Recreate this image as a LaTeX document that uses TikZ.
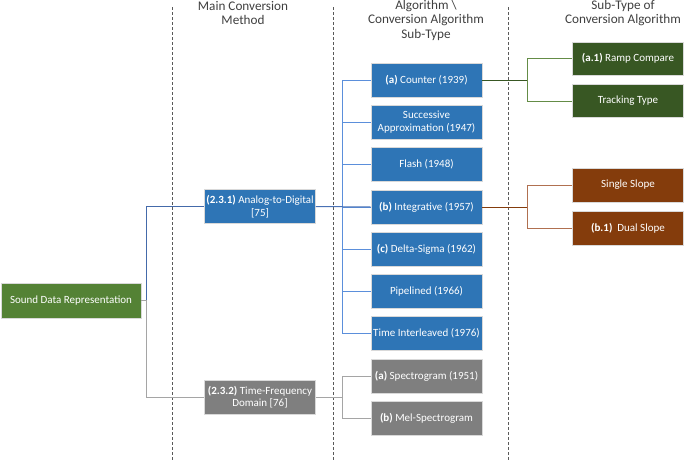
\documentclass[tikz,border=0pt]{standalone}
\usepackage{fontspec}
\setmainfont{Carlito}
\usepackage{xcolor}
\usepackage{tikz}
\usetikzlibrary{positioning, calc}
\definecolor{adcblue}{RGB}{46, 117, 182}
\definecolor{rootgreen}{RGB}{84, 130, 53}
\definecolor{subgreen}{RGB}{56, 87, 35}
\definecolor{subbrown}{RGB}{132, 60, 12}
\definecolor{tfgray}{RGB}{127, 127, 127}
\definecolor{headdark}{RGB}{64, 64, 64}
\definecolor{trunkblue}{RGB}{68, 106, 170}
\definecolor{branchblue}{RGB}{91, 143, 219}
\definecolor{linegray}{RGB}{165, 165, 165}
\definecolor{branchbrown}{RGB}{176, 112, 80}
\definecolor{branchgreen}{RGB}{100, 140, 70}

\begin{document}
\begin{tikzpicture}[
    x=1pt, y=-1pt,
    box/.style={
        rectangle,
        draw=white!85!black,
        line width=0.6pt,
        minimum width=111pt,
        minimum height=34pt,
        inner sep=1pt,
        align=center,
        text=white,
        font=\fontsize{11}{12.5}\selectfont
    },
    algbox/.style={box, fill=adcblue},
    graybox/.style={box, fill=tfgray},
    greenbox/.style={box, fill=subgreen, minimum height=33pt},
    brownbox/.style={box, fill=subbrown},
    header/.style={align=center, text=headdark, font=\fontsize{13.2}{14.5}\selectfont},
    sep/.style={densely dashed, line width=0.7pt, color=black!65},
    mainline/.style={line width=1pt},
    subline/.style={line width=0.7pt}
]
    \useasboundingbox (0,0) rectangle (685,461);

    % Column separators
    \draw[sep] (172,7) -- (172,461);
    \draw[sep] (333,7) -- (333,461);
    \draw[sep] (508,7) -- (508,461);

    % Headers
    \node[header] (h1) at (243,13) {Main Conversion\\Method};
    \node[header] (h2) at (426,20) {Algorithm \textbackslash\\Conversion Algorithm\\Sub-Type};
    \node[header] (h3) at (623,13) {Sub-Type of\\Conversion Algorithm};

    % Root and methods
    \node[box, fill=rootgreen, minimum width=140pt, minimum height=35pt] (root) at (71,300.5) {Sound Data Representation};
    \node[algbox] (adc) at (260,206.5) {\textbf{(2.3.1)} Analog-to-Digital\\{[75]}};
    \node[graybox] (tfd) at (260,397) {\textbf{(2.3.2)} Time-Frequency\\Domain [76]};

    % Algorithms
    \node[algbox] (counter) at (426.5,80) {\textbf{(a)} Counter (1939)};
    \node[algbox] (succ) at (426.5,122) {Successive\\Approximation (1947)};
    \node[algbox] (flash) at (426.5,164.5) {Flash (1948)};
    \node[algbox] (integ) at (426.5,207) {\textbf{(b)} Integrative (1957)};
    \node[algbox] (delta) at (426.5,249) {\textbf{(c)} Delta-Sigma (1962)};
    \node[algbox] (pipe) at (426.5,291.5) {Pipelined (1966)};
    \node[algbox] (tint) at (426.5,333.5) {Time Interleaved (1976)};
    \node[graybox] (spec) at (426.5,376) {\textbf{(a)} Spectrogram (1951)};
    \node[graybox] (mel) at (426.5,418) {\textbf{(b)} Mel-Spectrogram};

    % Sub-types
    \node[greenbox] (ramp) at (628,58.5) {\textbf{(a.1)} Ramp Compare};
    \node[greenbox] (track) at (628,101) {Tracking Type};
    \node[brownbox] (single) at (628,185) {Single Slope};
    \node[brownbox] (dual) at (628,228) {\textbf{(b.1)}\ \ Dual Slope};

    % Connectors
    \draw[mainline, trunkblue] (root.east) -- ++(5,0) |- (adc.west);
    \draw[mainline, linegray] (root.east) -- ++(5,0) |- (tfd.west);
    \foreach \n in {counter, succ, flash, integ, delta, pipe, tint}
        \draw[subline, branchblue] (adc.east) -- ++(27,0) |- (\n.west);
    \draw[mainline, trunkblue!80!branchblue] (adc.east) -- (integ.west);
    \foreach \n in {spec, mel}
        \draw[subline, linegray] (tfd.east) -- ++(27,0) |- (\n.west);
    \draw[mainline, linegray] (tfd.east) -- ++(27,0);
    \foreach \n in {ramp, track}
        \draw[subline, branchgreen] (counter.east) -- ++(45,0) |- (\n.west);
    \draw[mainline, subgreen] (counter.east) -- ++(45,0);
    \foreach \n in {single, dual}
        \draw[subline, branchbrown] (integ.east) -- ++(45,0) |- (\n.west);
    \draw[mainline, subbrown] (integ.east) -- ++(45,0);
\end{tikzpicture}
\end{document}
